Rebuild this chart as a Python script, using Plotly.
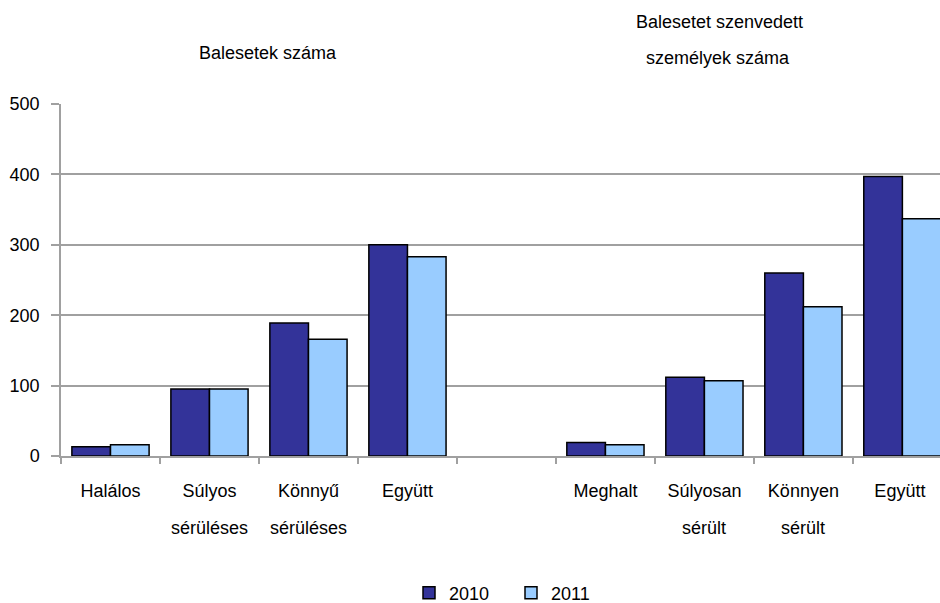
import plotly.graph_objects as go

categories = ["Halálos", "Súlyos", "Könnyű", "Együtt", " ",
              "Meghalt", "Súlyosan", "Könnyen", "Együtt "]
second_line = ["", "sérüléses", "sérüléses", "", "",
               "", "sérült", "sérült", ""]
values_2010 = [13, 95, 189, 300, None, 19, 112, 260, 397]
values_2011 = [16, 95, 166, 283, None, 16, 107, 212, 337]
series_names = ["2010", "2011"]
colors = ["#333399", "#99CCFF"]

FONT = "Liberation Sans, Arial, sans-serif"
FS = 18

W, H = 940, 603
ML, MR, MT, MB = 61, 0, 104, 147
plot_h = H - MT - MB
plot_w = W - ML - MR


def py(pix):
    return (H - MB - pix) / plot_h


def px(pix):
    return (pix - ML) / plot_w


fig = go.Figure()
for name, vals, col in zip(series_names, [values_2010, values_2011], colors):
    fig.add_trace(go.Bar(
        x=categories, y=vals, name=name,
        marker=dict(color=col, line=dict(color="#000000", width=1.5)),
    ))

annotations = []
for cat, txt in zip(categories, second_line):
    if txt:
        annotations.append(dict(
            x=cat, xref="x", y=py(528), yref="paper", text=txt,
            showarrow=False, xanchor="center", yanchor="middle",
            font=dict(family=FONT, size=FS, color="#000000"),
        ))

for text, x, y in [("Balesetek száma", 268, 53),
                   ("Balesetet szenvedett", 719, 22),
                   ("személyek száma", 718, 58)]:
    annotations.append(dict(
        x=px(x), xref="paper", y=py(y), yref="paper", text=text,
        showarrow=False, xanchor="center", yanchor="middle",
        font=dict(family=FONT, size=FS, color="#000000"),
    ))

fig.update_layout(
    width=W, height=H,
    margin=dict(l=ML, r=MR, t=MT, b=MB, autoexpand=False),
    paper_bgcolor="white", plot_bgcolor="white",
    barmode="group", bargap=0.22, bargroupgap=0,
    font=dict(family=FONT, size=FS, color="#000000"),
    showlegend=True,
    legend=dict(orientation="h", x=(425 - 16) / W, xref="container",
                xanchor="left", entrywidth=57, entrywidthmode="pixels",
                y=(H - 593) / H, yref="container", yanchor="middle",
                font=dict(family=FONT, size=FS, color="#000000"),
                itemclick=False),
    annotations=annotations,
)
fig.update_xaxes(
    type="category", categoryorder="array", categoryarray=categories,
    range=[-0.5, 8.38], automargin=False,
    showline=True, linecolor="#A0A0A0", linewidth=1.5,
    ticks="outside", tickson="boundaries", ticklen=6, tickcolor="#A0A0A0",
    tickwidth=1.5, ticklabelstandoff=18,
    showgrid=False,
    tickfont=dict(family=FONT, size=FS, color="#000000"),
)
fig.update_yaxes(
    range=[0, 500], dtick=100, tick0=0, automargin=False,
    showline=True, linecolor="#A0A0A0", linewidth=1.5,
    ticks="outside", ticklen=8, tickcolor="#A0A0A0", tickwidth=1.5,
    ticklabelstandoff=8,
    showgrid=True, gridcolor="#A0A0A0", gridwidth=1.5,
    zeroline=False,
    tickfont=dict(family=FONT, size=FS, color="#000000"),
)

fig.write_html(
    "out.html",
    config={"displayModeBar": False},
    post_script="document.body.style.margin='0';document.body.style.overflow='hidden';",
)
